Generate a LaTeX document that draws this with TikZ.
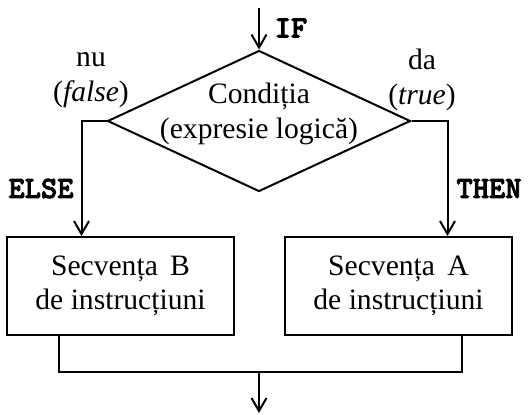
\documentclass[tikz,border=0pt]{standalone}
\usepackage{fontspec}
\setmainfont{Liberation Serif}
\newfontfamily\kwfont{lmmonolt10-bold.otf}[FakeBold=2.6]
\usepackage{tikz}
\usetikzlibrary{arrows.meta,positioning,shapes.geometric}
\tikzset{
  decision/.style={draw,diamond,line width=1pt,inner sep=0pt,minimum width=151.5pt,minimum height=70.5pt},
  seqbox/.style={draw,rectangle,line width=1pt,minimum width=113.5pt,minimum height=49pt,
    align=center,inner sep=2pt},
  flow/.style={-{Straight Barb[length=6.5pt,width=7.5pt,line width=1pt]},line width=1pt},
  joinline/.style={line width=1pt},
  branchnote/.style={align=center,inner sep=0pt},
  keyword/.style={font=\kwfont\fontsize{15.5}{17}\selectfont,inner sep=0pt}
}

\begin{document}
\begin{tikzpicture}[x=0.5pt,y=-0.5pt,font=\fontsize{14.8}{17.2}\selectfont]
  \useasboundingbox (0,0) rectangle (528,414);
  \node[decision] (cond) at (259,121) {};
  \node[branchnote] (condtext) at (259,114) {Condiția\\(expresie logică)};
  \node[seqbox] (seqB) at (120.5,286) {Secvența\, B\\de instrucțiuni};
  \node[seqbox] (seqA) at (398.5,286) {Secvența\, A\\de instrucțiuni};
  \coordinate (entry) at (259,8);
  \coordinate (exit) at (259,413);
  \coordinate (merge) at (259,372);
  % labels
  \node[keyword] (kif) at (291,28) {IF};
  \node[keyword] (kelse) at (41,188.5) {ELSE};
  \node[keyword] (kthen) at (489,188.5) {THEN};
  \node[branchnote] (nfalse) at (91,80) {nu\\(\textit{false})};
  \node[branchnote] (ntrue) at (422,80) {da\\(\textit{true})};
  % connectors
  \draw[flow] (entry) -- (cond.north);
  \draw[flow] (cond.west) -- ++(-25,0) coordinate (elsebend) -- (elsebend |- seqB.north);
  \draw[flow] (cond.east) -- ++(36,0) coordinate (thenbend) -- (thenbend |- seqA.north);
  \draw[joinline] (seqB.south) ++(-61.5,0) coordinate (bout) -- (bout |- merge) -- (merge)
    -- (merge -| 462,0) coordinate (aout) -- (aout |- seqA.south);
  \draw[flow] (merge) -- (exit);
\end{tikzpicture}
\end{document}
